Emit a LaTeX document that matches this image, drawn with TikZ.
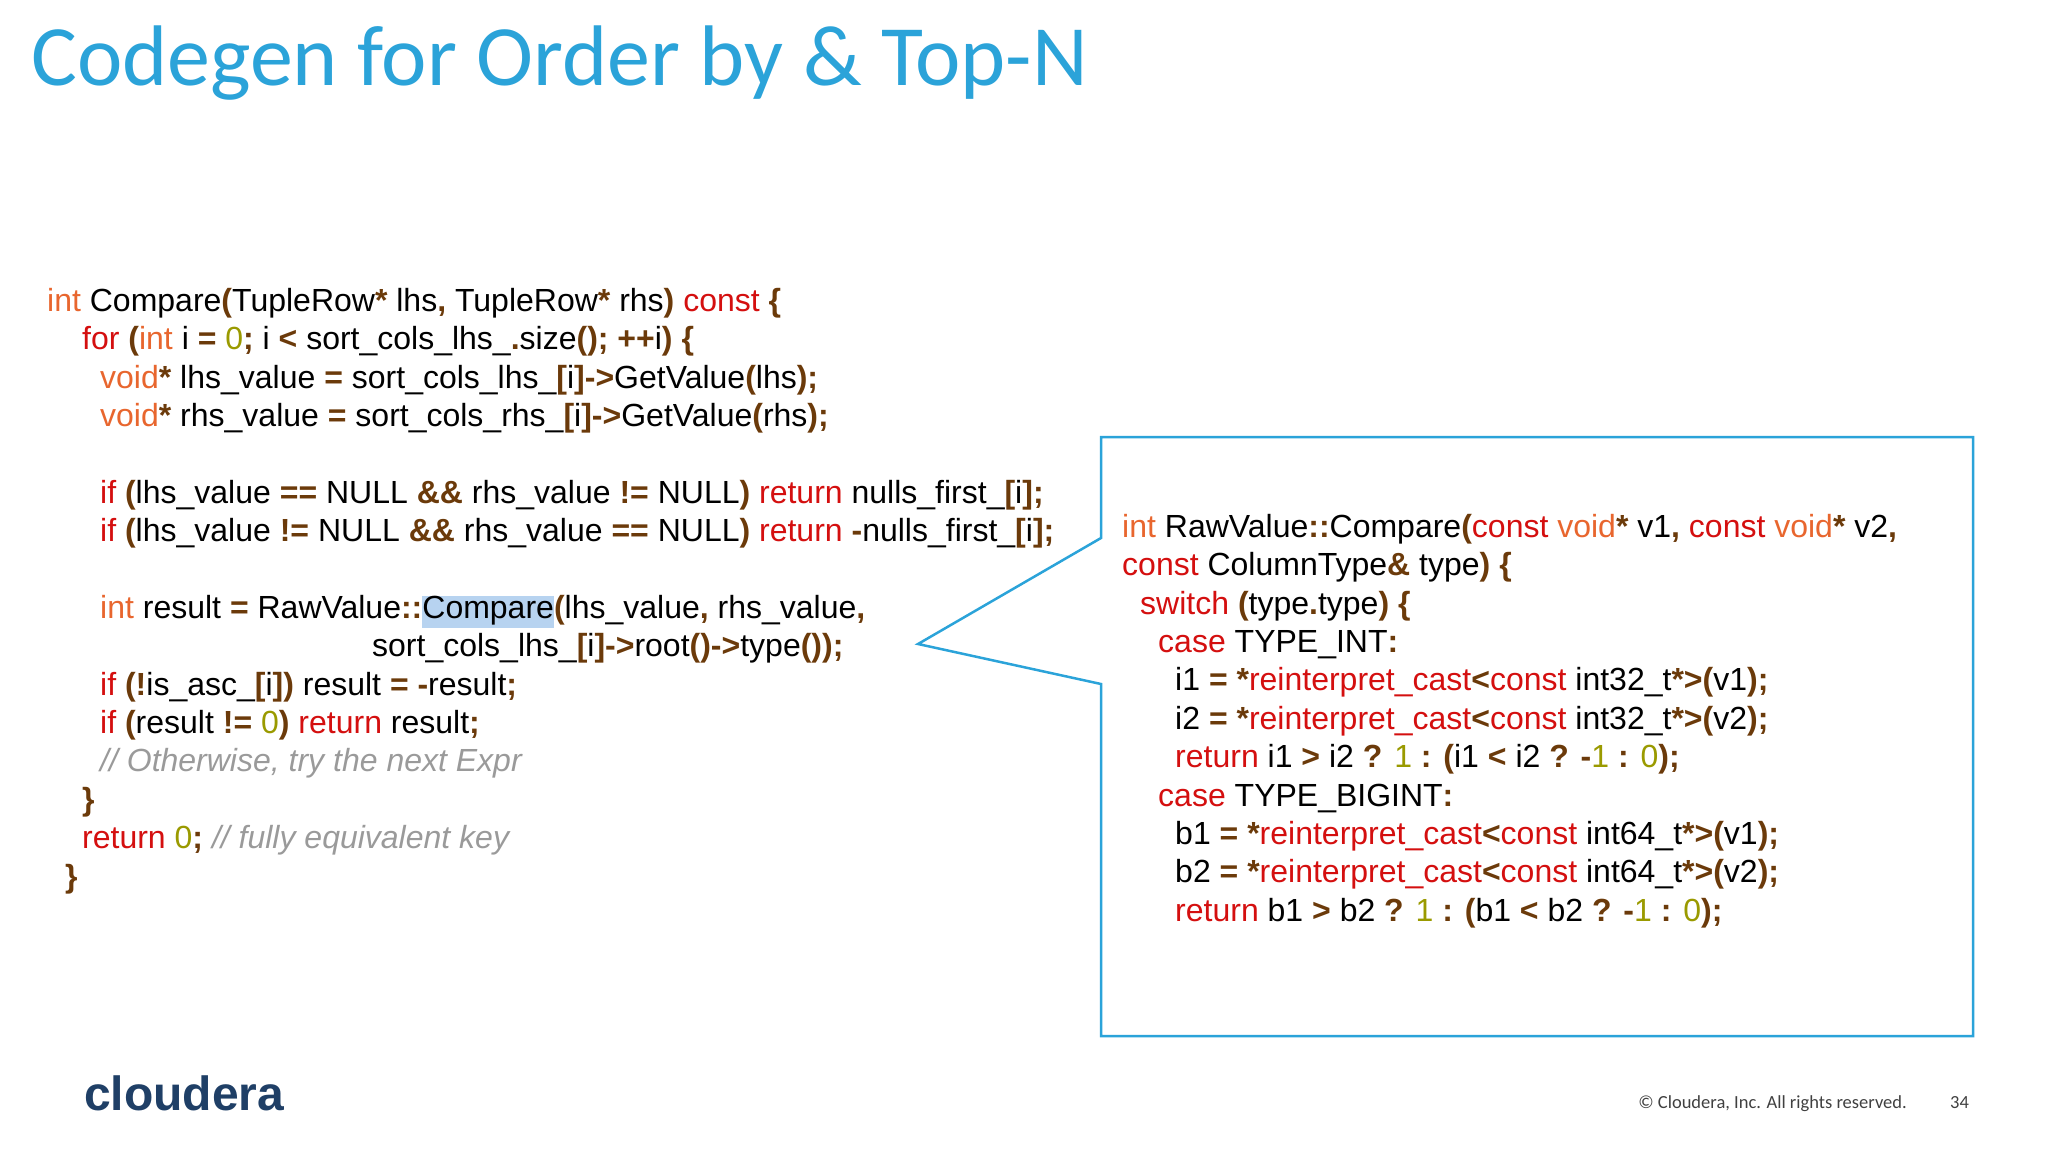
\documentclass[tikz,border=0pt]{standalone}
\usepackage{fontspec}
\setmainfont{Liberation Sans}
\newfontfamily\titlefont{Carlito}
\usetikzlibrary{positioning}
\definecolor{slideblue}{HTML}{2BA3D9}
\definecolor{kworange}{HTML}{E8662E}
\definecolor{kwred}{HTML}{D40F0F}
\definecolor{punbrown}{HTML}{6B3A0A}
\definecolor{numolive}{HTML}{9A9A00}
\definecolor{cmtgray}{HTML}{9A9A9A}
\definecolor{hlblue}{HTML}{B7D3F0}
\definecolor{logonavy}{HTML}{1F3F66}
\newcommand{\kw}[1]{\textcolor{kworange}{#1}}
\newcommand{\rk}[1]{\textcolor{kwred}{#1}}
\newcommand{\pn}[1]{\textcolor{punbrown}{\bfseries #1}}
\newcommand{\nm}[1]{\textcolor{numolive}{#1}}
\newcommand{\cm}[1]{\textcolor{cmtgray}{\itshape #1}}
\newcommand{\hlt}[1]{{\setlength{\fboxsep}{0pt}\colorbox{hlblue}{\strut #1}}}
\tikzset{
  code/.style={anchor=base west, inner sep=0pt, font=\fontsize{32}{32}\selectfont},
}
\begin{document}
\begin{tikzpicture}[x=1pt, y=-1pt]
    \useasboundingbox (0,0) rectangle (2048,1152);

    % title
    \node[anchor=base west, inner sep=0pt, text=slideblue, font=\titlefont\fontsize{86}{86}\selectfont] (title) at (31,85) {Codegen for Order by \& Top-N};

    % left code
    \node[code] (l1) at (47,311) {\kw{int} Compare\pn{(}TupleRow\pn{*} lhs\pn{,} TupleRow\pn{*} rhs\pn{)} \rk{const} \pn{\{}};
    \node[code] (l2) at (82,349) {\rk{for} \pn{(}\kw{int} i \pn{=} \nm{0}\pn{;} i \pn{<} sort\_cols\_lhs\_\pn{.}size\pn{();} \pn{++}i\pn{)} \pn{\{}};
    \node[code] (l3) at (100,388) {\kw{void}\pn{*} lhs\_value \pn{=} sort\_cols\_lhs\_\pn{[}i\pn{]->}GetValue\pn{(}lhs\pn{);}};
    \node[code] (l4) at (100,426) {\kw{void}\pn{*} rhs\_value \pn{=} sort\_cols\_rhs\_\pn{[}i\pn{]->}GetValue\pn{(}rhs\pn{);}};
    \node[code] (l5) at (100,503) {\rk{if} \pn{(}lhs\_value \pn{==} NULL \pn{\&\&} rhs\_value \pn{!=} NULL\pn{)} \rk{return} nulls\_first\_\pn{[}i\pn{];}};
    \node[code] (l6) at (100,541) {\rk{if} \pn{(}lhs\_value \pn{!=} NULL \pn{\&\&} rhs\_value \pn{==} NULL\pn{)} \rk{return} \pn{-}nulls\_first\_\pn{[}i\pn{];}};
    \node[code] (l7) at (100,618) {\kw{int} result \pn{=} RawValue\pn{::}\hlt{Compare}\pn{(}lhs\_value\pn{,} rhs\_value\pn{,}};
    \node[code] (l8) at (372,656) {sort\_cols\_lhs\_\pn{[}i\pn{]->}root\pn{()->}type\pn{());}};
    \node[code] (l9) at (100,695) {\rk{if} \pn{(!}is\_asc\_\pn{[}i\pn{])} result \pn{= -}result\pn{;}};
    \node[code] (l10) at (100,733) {\rk{if} \pn{(}result \pn{!=} \nm{0}\pn{)} \rk{return} result\pn{;}};
    \node[code] (l11) at (100,771) {\cm{// Otherwise, try the next Expr}};
    \node[code] (l12) at (82,810) {\pn{\}}};
    \node[code] (l13) at (82,848) {\rk{return} \nm{0}\pn{;} \cm{// fully equivalent key}};
    \node[code] (l14) at (65,887) {\pn{\}}};

    % callout box
    \coordinate (boxnw) at (1101,437);
    \coordinate (boxse) at (1973,1036);
    \coordinate (tip) at (918,644);
    \draw[slideblue, line width=2.5pt, line join=miter]
        (1101,538) -- (boxnw) -- (1973,437) -- (boxse) -- (1101,1036) -- (1101,684) -- (tip) -- cycle;

    % right code
    \node[code] (r1) at (1122,537) {\kw{int} RawValue\pn{::}Compare\pn{(}\rk{const} \kw{void}\pn{*} v1\pn{,} \rk{const} \kw{void}\pn{*} v2\pn{,}};
    \node[code] (r2) at (1122,575) {\rk{const} ColumnType\pn{\&} type\pn{)} \pn{\{}};
    \node[code] (r3) at (1140,614) {\rk{switch} \pn{(}type\pn{.}type\pn{)} \pn{\{}};
    \node[code] (r4) at (1158,652) {\rk{case} TYPE\_INT\pn{:}};
    \node[code] (r5) at (1175,690) {i1 \pn{=} \pn{*}\rk{reinterpret\_cast}\pn{<}\rk{const} int32\_t\pn{*>(}v1\pn{);}};
    \node[code] (r6) at (1175,729) {i2 \pn{=} \pn{*}\rk{reinterpret\_cast}\pn{<}\rk{const} int32\_t\pn{*>(}v2\pn{);}};
    \node[code] (r7) at (1175,767) {\rk{return} i1 \pn{>} i2 \pn{?} \nm{1} \pn{:} \pn{(}i1 \pn{<} i2 \pn{?} \pn{-}\nm{1} \pn{:} \nm{0}\pn{);}};
    \node[code] (r8) at (1158,806) {\rk{case} TYPE\_BIGINT\pn{:}};
    \node[code] (r9) at (1175,844) {b1 \pn{=} \pn{*}\rk{reinterpret\_cast}\pn{<}\rk{const} int64\_t\pn{*>(}v1\pn{);}};
    \node[code] (r10) at (1175,882) {b2 \pn{=} \pn{*}\rk{reinterpret\_cast}\pn{<}\rk{const} int64\_t\pn{*>(}v2\pn{);}};
    \node[code] (r11) at (1175,921) {\rk{return} b1 \pn{>} b2 \pn{?} \nm{1} \pn{:} \pn{(}b1 \pn{<} b2 \pn{?} \pn{-}\nm{1} \pn{:} \nm{0}\pn{);}};

    % footer
    \node[anchor=base west, inner sep=0pt, text=logonavy, font=\bfseries\fontsize{48}{48}\selectfont] (logo) at (84,1110) {cloudera};
    \node[anchor=base east, inner sep=0pt, text=black!75, font=\titlefont\fontsize{18.5}{18.5}\selectfont] (copy) at (1907,1108) {\textcopyright{} Cloudera, Inc. All rights reserved.};
    \node[anchor=base west, inner sep=0pt, text=black!75, font=\titlefont\fontsize{18.5}{18.5}\selectfont] (page) at (1950,1108) {34};
\end{tikzpicture}
\end{document}
